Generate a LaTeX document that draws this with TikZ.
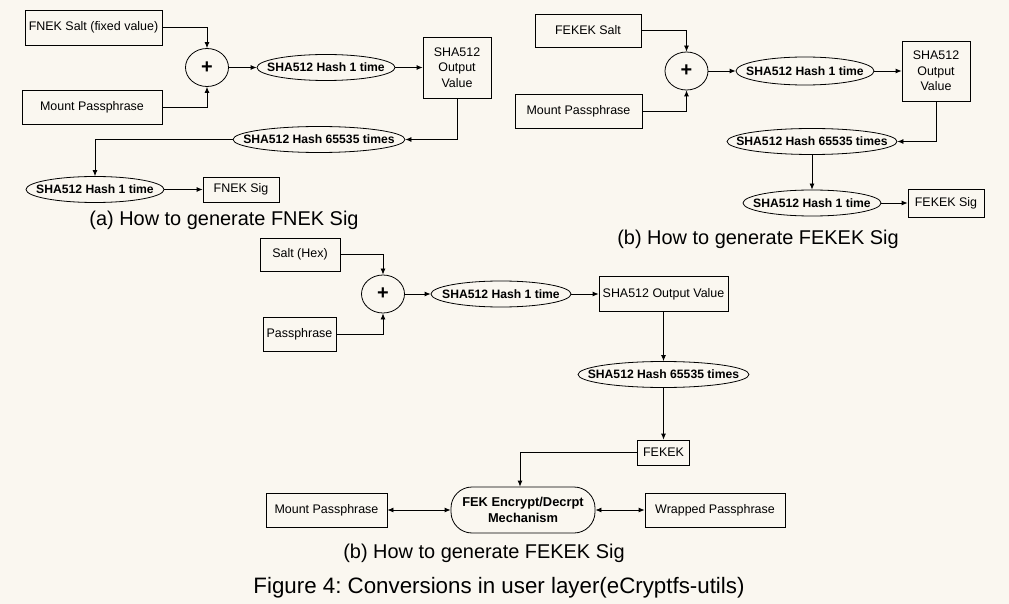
\documentclass[tikz,border=0pt]{standalone}
\usepackage{fontspec}
\setmainfont{Liberation Sans}
\usetikzlibrary{arrows.meta,shapes.geometric}
\definecolor{paper}{RGB}{250,247,240}
\frenchspacing

\begin{document}
\begin{tikzpicture}
            [x=1bp, y=-1bp, >={Latex[length=6bp,width=5bp]}, line width=0.8bp,
             box/.style={draw, rectangle, inner sep=0pt, align=center, font=\fontsize{12.5}{15.5}\selectfont},
             hash/.style={draw, ellipse, inner xsep=-40bp, inner ysep=-10bp, font=\fontsize{12.2}{15}\selectfont\bfseries},
             plus/.style={draw, ellipse, minimum width=43bp, minimum height=38bp, inner sep=0pt, font=\fontsize{20}{20}\selectfont\bfseries},
             caption/.style={font=\fontsize{20}{24}\selectfont}]
            \fill[paper] (0,0) rectangle (1009,604);
            \useasboundingbox (0,0) rectangle (1009,604);

            % (a) FNEK Sig
            \node[box, minimum width=137bp, minimum height=35bp] (fsalt) at (93.5,27.5) {FNEK Salt (fixed value)};
            \node[box, minimum width=140bp, minimum height=34bp] (fmount) at (92,107) {Mount Passphrase};
            \node[plus] (fplus) at (207,67.5) {+};
            \node[hash, minimum width=138bp, minimum height=26bp] (fhashA) at (326,67.5) {SHA512 Hash 1 time};
            \node[box, minimum width=68bp, minimum height=61bp] (fout) at (457,67.5) {SHA512\\Output\\Value};
            \node[hash, minimum width=172bp, minimum height=26bp] (fhashB) at (319,139.5) {SHA512 Hash 65535 times};
            \node[hash, minimum width=138bp, minimum height=26bp] (fhashC) at (95,189.5) {SHA512 Hash 1 time};
            \node[box, minimum width=76bp, minimum height=25bp] (fsig) at (241,189.5) {FNEK Sig};
            \node[caption] (fcap) at (224,220) {(a) How to generate FNEK Sig};

            \draw [->] (fsalt.east) -| (fplus.north);
            \draw [->] (fmount.east) -| (fplus.south);
            \draw [->] (fplus) -- (fhashA);
            \draw [->] (fhashA) -- (fout);
            \draw [->] (fout.south) |- (fhashB.east);
            \draw [->] (fhashB.west) -| (fhashC.north);
            \draw [->] (fhashC) -- (fsig);

            % (b) FEKEK Sig
            \node[box, minimum width=106bp, minimum height=33bp] (bsalt) at (588,30.5) {FEKEK Salt};
            \node[box, minimum width=127bp, minimum height=34bp] (bmount) at (578.5,111) {Mount Passphrase};
            \node[plus] (bplus) at (686.5,71) {+};
            \node[hash, minimum width=138bp, minimum height=28bp] (bhashA) at (805,71) {SHA512 Hash 1 time};
            \node[box, minimum width=68bp, minimum height=60bp] (bout) at (936,71) {SHA512\\Output\\Value};
            \node[hash, minimum width=170bp, minimum height=26bp] (bhashB) at (812,141.5) {SHA512 Hash 65535 times};
            \node[hash, minimum width=138bp, minimum height=26bp] (bhashC) at (812,203) {SHA512 Hash 1 time};
            \node[box, minimum width=76bp, minimum height=28bp] (bsig) at (946,203) {FEKEK Sig};
            \node[caption] (bcap) at (758,239) {(b) How to generate FEKEK Sig};

            \draw [->] (bsalt.east) -| (bplus.north);
            \draw [->] (bmount.east) -| (bplus.south);
            \draw [->] (bplus) -- (bhashA);
            \draw [->] (bhashA) -- (bout);
            \draw [->] (bout.south) |- (bhashB.east);
            \draw [->] (bhashB) -- (bhashC);
            \draw [->] (bhashC) -- (bsig);

            % (c) FEKEK and wrapped passphrase
            \node[box, minimum width=80bp, minimum height=33bp] (csalt) at (300,254.5) {Salt (Hex)};
            \node[box, minimum width=73bp, minimum height=34bp] (cpass) at (299.5,334) {Passphrase};
            \node[plus] (cplus) at (383,294) {+};
            \node[hash, minimum width=140bp, minimum height=26bp] (chash) at (501,294) {SHA512 Hash 1 time};
            \node[box, minimum width=129bp, minimum height=35bp] (cout) at (663.5,294) {SHA512 Output Value};
            \node[hash, minimum width=171bp, minimum height=26bp] (cmulti) at (663.5,374.5) {SHA512 Hash 65535 times};
            \node[box, minimum width=52bp, minimum height=25bp] (cfekek) at (663.5,452.5) {FEKEK};
            \node[draw, rectangle, rounded corners=21bp, minimum width=144bp, minimum height=46bp, inner sep=0pt, align=center,
                  font=\fontsize{12.9}{16.5}\selectfont\bfseries] (cfek) at (523,510) {FEK Encrypt/Decrpt\\Mechanism};
            \node[box, minimum width=121bp, minimum height=34bp] (cmount) at (326.5,510) {Mount Passphrase};
            \node[box, minimum width=140bp, minimum height=34bp] (cwrap) at (715,510) {Wrapped Passphrase};
            \node[caption] (ccap) at (484,553) {(b) How to generate FEKEK Sig};
            \node[caption, font=\fontsize{22.4}{26}\selectfont] (figcap) at (499,588) {Figure 4: Conversions in user layer(eCryptfs-utils)};

            \draw [->] (csalt.east) -| (cplus.north);
            \draw [->] (cpass.east) -| (cplus.south);
            \draw [->] (cplus) -- (chash);
            \draw [->] (chash) -- (cout);
            \draw [->] (cout) -- (cmulti);
            \draw [->] (cmulti) -- (cfekek);
            \draw [->] (cfekek.west) -| ([xshift=-3bp]cfek.north);
            \draw [<->] (cmount) -- (cfek);
            \draw [<->] (cfek) -- (cwrap);
\end{tikzpicture}
\end{document}
